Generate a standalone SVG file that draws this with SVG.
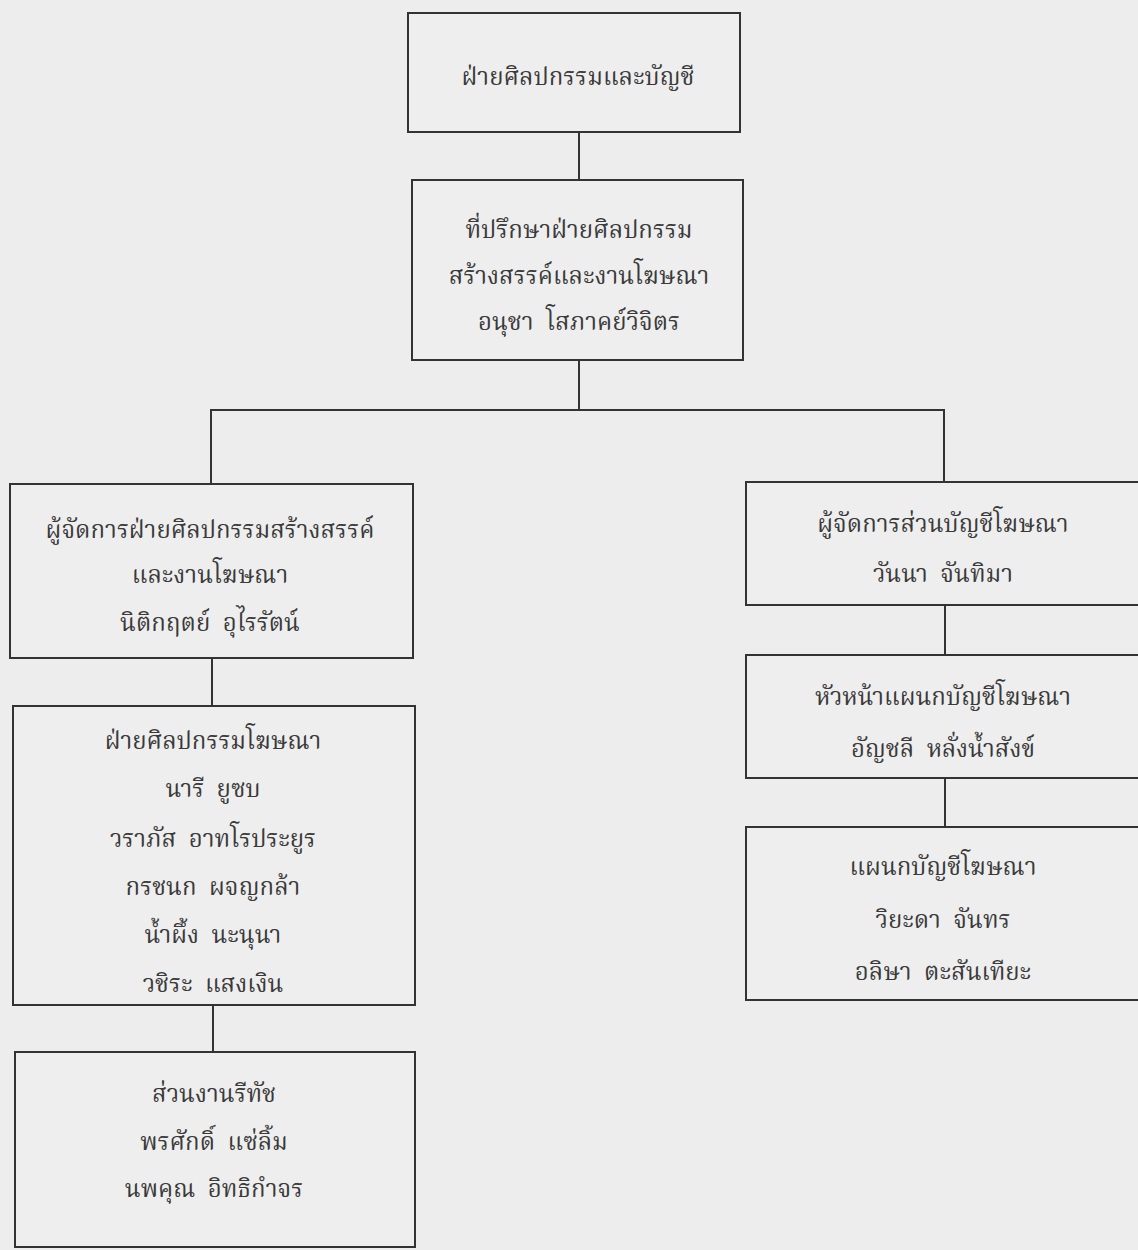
<svg xmlns="http://www.w3.org/2000/svg" width="1138" height="1250" viewBox="0 0 1138 1250">
<style>
.bg{fill:#ededed}
.box{fill:#eeeeee;stroke:#333;stroke-width:2}
.ln{fill:none;stroke:#333;stroke-width:2}
text{font-family:"Noto Serif Thai","Noto Sans Thai","Liberation Serif","Noto Sans",serif;font-size:24px;fill:#3a3a3a;text-anchor:middle;white-space:pre}
</style>
<rect class="bg" x="0" y="0" width="1138" height="1250"/>
<g id="connectors">
<path class="ln" d="M579 132V180"/>
<path class="ln" d="M579 360V410"/>
<path class="ln" d="M211 484V410H944V482"/>
<path class="ln" d="M212 658V706"/>
<path class="ln" d="M213 1005V1052"/>
<path class="ln" d="M945 605V655"/>
<path class="ln" d="M945 778V827"/>
</g>
<g id="n1"><rect class="box" x="408" y="13" width="332" height="119"/>
<text x="578" y="85">ฝ่ายศิลปกรรมและบัญชี</text></g>
<g id="n2"><rect class="box" x="412" y="180" width="331" height="180"/>
<text x="579" y="238">ที่ปรึกษาฝ่ายศิลปกรรม</text>
<text x="579" y="284">สร้างสรรค์และงานโฆษณา</text>
<text x="579" y="330">อนุชา  โสภาคย์วิจิตร</text></g>
<g id="n3"><rect class="box" x="10" y="484" width="403" height="174"/>
<text x="210" y="538">ผู้จัดการฝ่ายศิลปกรรมสร้างสรรค์</text>
<text x="210" y="583">และงานโฆษณา</text>
<text x="210" y="631">นิติกฤตย์  อุไรรัตน์</text></g>
<g id="n4"><rect class="box" x="13" y="706" width="402" height="299"/>
<text x="213" y="749">ฝ่ายศิลปกรรมโฆษณา</text>
<text x="213" y="797">นารี  ยูซบ</text>
<text x="213" y="847">วราภัส  อาทโรประยูร</text>
<text x="213" y="895">กรชนก  ผจญกล้า</text>
<text x="213" y="943">น้ำผึ้ง  นะนุนา</text>
<text x="213" y="992">วชิระ  แสงเงิน</text></g>
<g id="n5"><rect class="box" x="15" y="1052" width="400" height="195"/>
<text x="214" y="1102">ส่วนงานรีทัช</text>
<text x="214" y="1150">พรศักดิ์  แซ่ลิ้ม</text>
<text x="214" y="1197">นพคุณ  อิทธิกำจร</text></g>
<g id="n6"><rect class="box" x="746" y="482" width="400" height="123"/>
<text x="943" y="532">ผู้จัดการส่วนบัญชีโฆษณา</text>
<text x="943" y="582">วันนา  จันทิมา</text></g>
<g id="n7"><rect class="box" x="746" y="655" width="400" height="123"/>
<text x="943" y="705">หัวหน้าแผนกบัญชีโฆษณา</text>
<text x="943" y="757">อัญชลี  หลั่งน้ำสังข์</text></g>
<g id="n8"><rect class="box" x="746" y="827" width="400" height="173"/>
<text x="943" y="875">แผนกบัญชีโฆษณา</text>
<text x="943" y="928">วิยะดา  จันทร</text>
<text x="943" y="980">อลิษา  ตะสันเทียะ</text></g>
</svg>
